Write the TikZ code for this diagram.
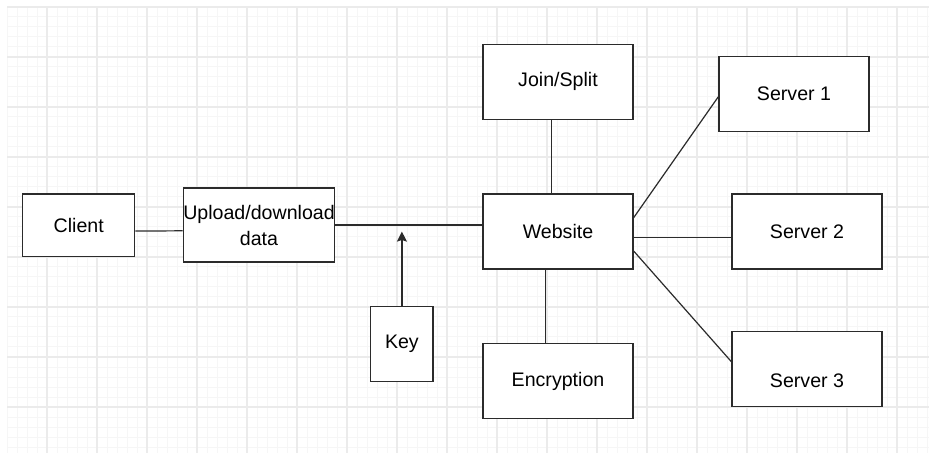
\documentclass[tikz,border=0pt]{standalone}
\usepackage{fontspec}
\setmainfont{Liberation Sans}
\usetikzlibrary{arrows.meta}

\definecolor{inkgray}{HTML}{2B2B2B}
\definecolor{gridminor}{HTML}{F6F6F6}
\definecolor{gridmajor}{HTML}{EBEBEB}

\tikzset{
  box/.style={draw=inkgray, line width=0.65pt, fill=white, minimum width=75pt,
    minimum height=37.5pt, inner sep=0pt, align=center,
    font=\fontsize{9.8}{13}\selectfont},
  link/.style={draw=inkgray, line width=0.6pt},
  minorline/.style={draw=gridminor, line width=0.5pt},
  majorline/.style={draw=gridmajor, line width=0.6pt},
}

\begin{document}
\begin{tikzpicture}[x=0.5pt,y=-0.5pt]
  \useasboundingbox[fill=white] (0,0) rectangle (929,453);

  % background grid
  \foreach \gx in {7,17,...,927} \draw[minorline] (\gx,7) -- (\gx,453);
  \foreach \gy in {7,17,...,447} \draw[minorline] (7,\gy) -- (929,\gy);
  \foreach \gx in {47,97,...,897} \draw[majorline] (\gx,7) -- (\gx,453);
  \foreach \gy in {7,57,...,407} \draw[majorline] (7,\gy) -- (929,\gy);

  % boxes
  \node[box, minimum width=56pt, minimum height=31.3pt] (client) at (78.7,225.3) {Client};
  \node[box, minimum height=37pt] (upload) at (259,225) {Upload/download\\data};
  \node[box, minimum width=31.2pt] (key) at (401.9,344.2) {Key};
  \node[box] (website) at (558,231.5) {Website};
  \node[box] (join) at (558,81.8) {Join/Split};
  \node[box] (encrypt) at (558,381.3) {Encryption};
  \node[box] (server1) at (794,94.2) {Server 1};
  \node[box] (server2) at (807,231.5) {Server 2};
  \node[box] (server3) at (807,369) {\raisebox{-5.8pt}[\height][\depth]{Server 3}};

  % connectors
  \draw[link] ([yshift=-2.9pt]client.east) -- ([yshift=-2.9pt]upload.west);
  \draw[link] (upload.east) -- (upload.east -| website.west);
  \coordinate (keyhit) at (key.north |- upload.east);
  \draw[link, -{Stealth[length=5pt, width=5pt, inset=0.8pt]}] (key.north) -- ([yshift=-3.3pt]keyhit);
  \draw[link] ([xshift=-3.2pt]join.south) -- ([xshift=-3.2pt]website.north);
  \draw[link] ([xshift=-6.2pt]website.south) -- ([xshift=-6.2pt]encrypt.north);
  \draw[link] ([yshift=6.9pt]website.east) -- ([yshift=-1.25pt]server1.west);
  \draw[link] ([yshift=-3.1pt]website.east) -- ([yshift=-3.1pt]server2.west);
  \draw[link] ([yshift=-9.75pt]website.east) -- ([yshift=3.65pt]server3.west);
\end{tikzpicture}
\end{document}
